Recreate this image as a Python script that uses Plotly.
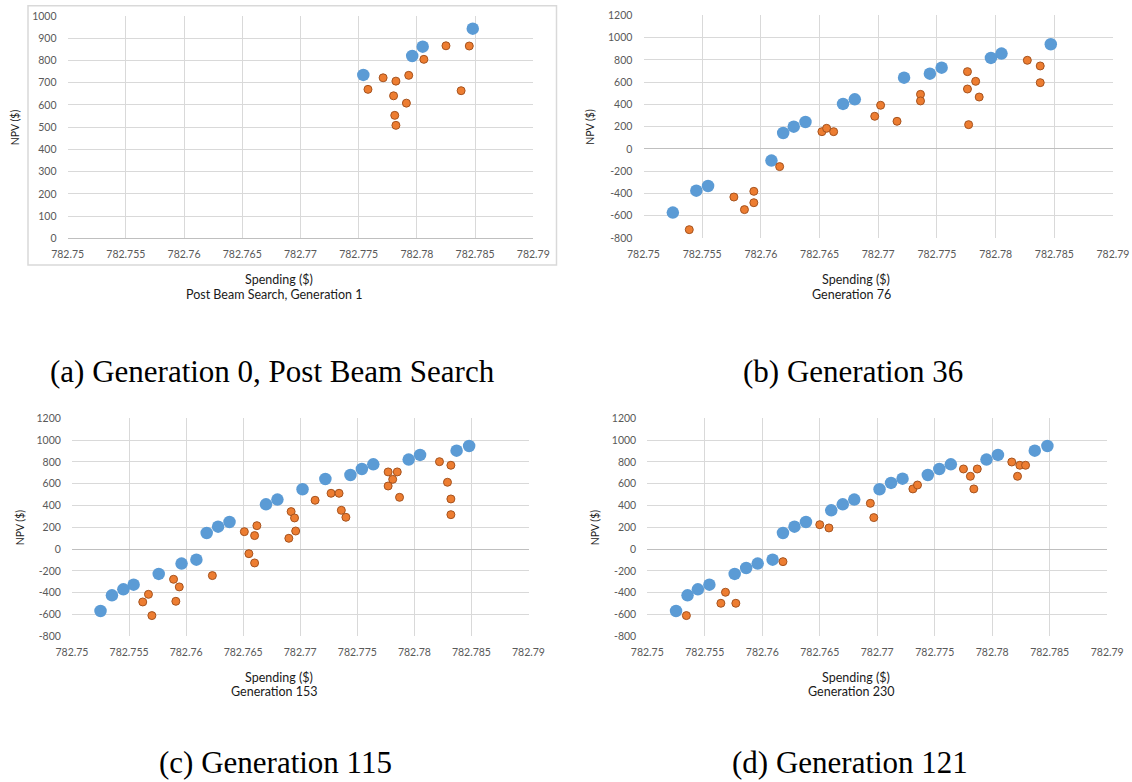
import plotly.graph_objects as go

W, H = 1132, 782

# ---------------- data ----------------
x_tickvals = [782.75, 782.755, 782.76, 782.765, 782.77, 782.775, 782.78, 782.785, 782.79]
x_ticktext = ["782.75", "782.755", "782.76", "782.765", "782.77", "782.775", "782.78", "782.785", "782.79"]
y_tickvals_a = [0, 100, 200, 300, 400, 500, 600, 700, 800, 900, 1000]
y_ticktext_a = ["0", "100", "200", "300", "400", "500", "600", "700", "800", "900", "1000"]
y_tickvals = [-800, -600, -400, -200, 0, 200, 400, 600, 800, 1000, 1200]
y_ticktext = ["-800", "-600", "-400", "-200", "0", "200", "400", "600", "800", "1000", "1200"]

subtitles = ["Post Beam Search, Generation 1", "Generation 76", "Generation 153", "Generation 230"]
captions = ["(a) Generation 0, Post Beam Search", "(b) Generation 36", "(c) Generation 115", "(d) Generation 121"]

front_a_x = [782.7754, 782.7796, 782.7805, 782.7848]
front_a_y = [735, 820, 862, 943]
pop_a_x = [782.7758, 782.7771, 782.7782, 782.7793, 782.7780, 782.7791, 782.7781, 782.7782,
           782.7806, 782.7825, 782.7845, 782.7838]
pop_a_y = [670, 722, 707, 733, 641, 608, 553, 508, 805, 866, 865, 664]

front_b_x = [782.7525, 782.7545, 782.7555, 782.7609, 782.7619, 782.7628, 782.7638, 782.7670,
             782.7680, 782.7722, 782.7744, 782.7754, 782.7796, 782.7805, 782.7847]
front_b_y = [-572, -375, -333, -105, 143, 200, 242, 404, 445, 640, 676, 730, 817, 856, 940]
pop_b_x = [782.7539, 782.7577, 782.7586, 782.7594, 782.7594, 782.7616, 782.7652, 782.7656,
           782.7662, 782.7697, 782.7702, 782.7716, 782.7736, 782.7736, 782.7776, 782.7783,
           782.7776, 782.7786, 782.7777, 782.7827, 782.7838, 782.7838]
pop_b_y = [-725, -432, -545, -381, -483, -159, 155, 185, 155, 293, 392, 248, 490, 431, 694,
           607, 538, 466, 218, 796, 745, 595]

front_c_x = [782.7525, 782.7535, 782.7545, 782.7554, 782.7576, 782.7596, 782.7609, 782.7618,
             782.7628, 782.7638, 782.7670, 782.7680, 782.7702, 782.7722, 782.7744, 782.7754,
             782.7764, 782.7795, 782.7805, 782.7837, 782.7848]
front_c_y = [-568, -424, -369, -326, -228, -133, -97, 148, 206, 249, 411, 454, 549, 643, 680,
             735, 778, 821, 864, 903, 946]
pop_c_x = [782.7562, 782.7567, 782.7570, 782.7589, 782.7594, 782.7591, 782.7623, 782.7651,
           782.7655, 782.7660, 782.7660, 782.7662, 782.7690, 782.7692, 782.7695, 782.7696,
           782.7713, 782.7727, 782.7734, 782.7736, 782.7740, 782.7777, 782.7785, 782.7781,
           782.7777, 782.7787, 782.7822, 782.7832, 782.7829, 782.7832, 782.7832]
pop_c_y = [-485, -415, -610, -277, -347, -479, -243, 160, -42, 124, -127, 215, 99, 344, 286,
           166, 448, 512, 512, 356, 292, 708, 708, 640, 579, 475, 802, 769, 613, 460, 316]

front_d_x = [782.7525, 782.7535, 782.7544, 782.7554, 782.7576, 782.7586, 782.7596, 782.7609,
             782.7618, 782.7628, 782.7638, 782.7660, 782.7670, 782.7680, 782.7702, 782.7712,
             782.7722, 782.7744, 782.7754, 782.7764, 782.7795, 782.7805, 782.7837, 782.7848]
front_d_y = [-568, -424, -369, -326, -228, -173, -133, -97, 148, 206, 249, 356, 411, 454, 549,
             607, 646, 680, 735, 778, 821, 864, 903, 946]
pop_d_x = [782.7534, 782.7564, 782.7568, 782.7577, 782.7618, 782.7650, 782.7658, 782.7694,
           782.7697, 782.7731, 782.7735, 782.7775, 782.7781, 782.7787, 782.7784, 782.7817,
           782.7824, 782.7829, 782.7822]
pop_d_y = [-610, -497, -396, -497, -115, 224, 194, 420, 289, 552, 588, 735, 668, 735, 552,
           799, 769, 769, 668]

# ---------------- layout helpers (pixels -> paper) ----------------
def px(x):
    return x / W

def py(y):
    return 1 - y / H

panels = [
    dict(box=(67.6, 533.3, 16.0, 238.3), front=(front_a_x, front_a_y), pop=(pop_a_x, pop_a_y),
         yr=[0, 1000], yt=(y_tickvals_a, y_ticktext_a), title_xy=(279, 280), npv_x=15,
         cap=dict(x=272, y=371, yanchor="middle")),
    dict(box=(643.5, 1113.0, 15.3, 238.0), front=(front_b_x, front_b_y), pop=(pop_b_x, pop_b_y),
         yr=[-800, 1200], yt=(y_tickvals, y_ticktext), title_xy=(856, 280), npv_x=590,
         cap=dict(x=853, y=371, yanchor="middle")),
    dict(box=(72.0, 528.5, 418.3, 636.3), front=(front_c_x, front_c_y), pop=(pop_c_x, pop_c_y),
         yr=[-800, 1200], yt=(y_tickvals, y_ticktext), title_xy=(279, 677), npv_x=20,
         cap=dict(x=275, y=781, yanchor="bottom")),
    dict(box=(647.3, 1107.2, 418.3, 636.3), front=(front_d_x, front_d_y), pop=(pop_d_x, pop_d_y),
         yr=[-800, 1200], yt=(y_tickvals, y_ticktext), title_xy=(856, 677), npv_x=595,
         cap=dict(x=850, y=781, yanchor="bottom")),
]

BLUE = "#5B9BD5"
ORANGE = "#ED7D31"
TICKFONT = dict(family="Lato, Open Sans, sans-serif", size=10.5, color="#595959")
TITLEFONT = dict(family="Lato, Open Sans, sans-serif", size=12.5, color="#1a1a1a")
CAPFONT = dict(family="Liberation Serif, DejaVu Serif, serif", size=31, color="#000000")

fig = go.Figure()
annotations = []
layout_axes = {}

for i, p in enumerate(panels):
    n = i + 1
    xa = "x" if n == 1 else f"x{n}"
    ya = "y" if n == 1 else f"y{n}"
    fig.add_trace(go.Scatter(x=p["front"][0], y=p["front"][1], mode="markers", xaxis=xa, yaxis=ya,
                             marker=dict(size=12.5, color=BLUE, line=dict(width=0)), showlegend=False,
                             hoverinfo="x+y"))
    fig.add_trace(go.Scatter(x=p["pop"][0], y=p["pop"][1], mode="markers", xaxis=xa, yaxis=ya,
                             marker=dict(size=8, color=ORANGE, line=dict(width=1, color="#A5531F")),
                             showlegend=False, hoverinfo="x+y"))
    l, r, t, b = p["box"]
    xkey = "xaxis" if n == 1 else f"xaxis{n}"
    ykey = "yaxis" if n == 1 else f"yaxis{n}"
    layout_axes[xkey] = dict(domain=[px(l), px(r)], range=[782.75, 782.79], anchor=ya,
                             tickvals=x_tickvals, ticktext=x_ticktext, showgrid=True,
                             gridcolor="#D9D9D9", gridwidth=1, zeroline=False, showline=False,
                             ticks="outside", ticklen=6, tickcolor="rgba(0,0,0,0)",
                             automargin=False, ticklabeloverflow="allow",
                             tickfont=TICKFONT, fixedrange=True)
    layout_axes[ykey] = dict(domain=[py(b), py(t)], range=p["yr"], anchor=xa,
                             tickvals=p["yt"][0], ticktext=p["yt"][1], showgrid=True,
                             gridcolor="#D9D9D9", gridwidth=1, zeroline=True,
                             zerolinecolor="#BFBFBF", zerolinewidth=1, showline=False,
                             ticks="outside", ticklen=8, tickcolor="rgba(0,0,0,0)",
                             automargin=False,
                             tickfont=TICKFONT, fixedrange=True)
    tx, ty = p["title_xy"]
    annotations.append(dict(x=px(tx), y=py(ty), xref="paper", yref="paper", showarrow=False,
                            text="Spending ($)", font=TITLEFONT, xanchor="center", yanchor="middle",
                            borderpad=0))
    annotations.append(dict(x=px(tx - 5), y=py(ty + 14.5), xref="paper", yref="paper", showarrow=False,
                            text=subtitles[i], font=TITLEFONT, xanchor="center", yanchor="middle",
                            borderpad=0))
    annotations.append(dict(x=px(p["npv_x"]), y=py((t + b) / 2), xref="paper", yref="paper",
                            showarrow=False, text="NPV ($)", textangle=-90, borderpad=0,
                            font=dict(family="Lato, Open Sans, sans-serif", size=10.5, color="#1a1a1a"),
                            xanchor="center", yanchor="middle"))
    c = p["cap"]
    annotations.append(dict(x=px(c["x"]), y=py(c["y"]), xref="paper", yref="paper", showarrow=False,
                            text=captions[i], borderpad=0, font=CAPFONT,
                            xanchor="center", yanchor=c["yanchor"]))

shapes = [dict(type="rect", xref="paper", yref="paper", x0=px(28), x1=px(556.5), y0=py(265), y1=py(5.7),
               line=dict(color="#D9D9D9", width=1.5), fillcolor="rgba(0,0,0,0)", layer="below")]

fig.update_layout(template="none", width=W, height=H, margin=dict(l=0, r=0, t=0, b=0, pad=0),
                  autosize=False, paper_bgcolor="white", plot_bgcolor="white",
                  annotations=annotations, shapes=shapes, **layout_axes)

fig.write_html("out.html", config={"displayModeBar": False, "responsive": False})
